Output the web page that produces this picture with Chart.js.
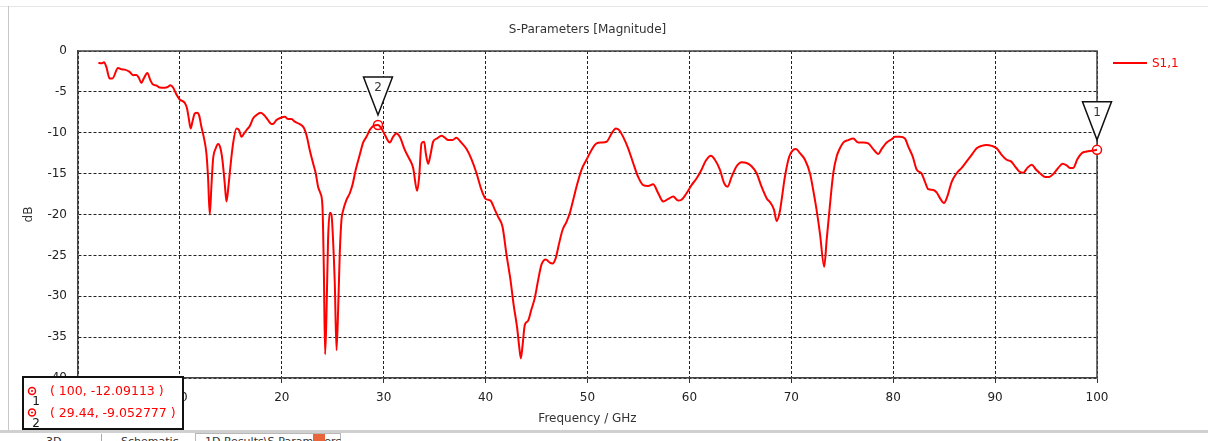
<!DOCTYPE html>
<html>
<head>
<meta charset="utf-8">
<title>S-Parameters [Magnitude]</title>
<script src="https://cdn.jsdelivr.net/npm/chart.js@4.4.1/dist/chart.umd.min.js"></script>
<style>
  html, body { margin: 0; padding: 0; background: #fff; }
  #wrap { position: relative; width: 1208px; height: 441px; overflow: hidden; font-family: "DejaVu Sans", Verdana, sans-serif; }
  #chart { position: absolute; left: 0; top: 0; z-index: 2; }
  .topline { position: absolute; left: 0; top: 6px; width: 1208px; height: 1px; background: #e6e6e6; }
  .leftline { position: absolute; left: 8px; top: 6px; width: 1px; height: 425px; background: #c8c8c8; }
  .band { position: absolute; left: 0; top: 430px; width: 1208px; height: 3px; background: #d0d0d0; }
  .tab { position: absolute; top: 435px; font-size: 11px; color: #333; white-space: nowrap; }
  .sep { position: absolute; left: 101px; top: 434px; width: 1px; height: 7px; background: #aaa; }
  .active { position: absolute; left: 195px; top: 433px; width: 144px; height: 10px; border: 1px solid #b8b8b8; border-bottom: none; background: #fff; }
  .close { position: absolute; left: 313px; top: 434px; width: 12px; height: 9px; background: #e8653a; }
</style>
</head>
<body>
<div id="wrap">
  <div class="topline"></div>
  <div class="leftline"></div>
  <div class="band"></div>
  <div class="tab" style="left:46px">3D</div>
  <div class="sep"></div>
  <div class="tab" style="left:121px">Schematic</div>
  <div class="active"></div>
  <div class="tab" style="left:205px">1D Results\S-Parameters</div>
  <div class="close"></div>
  <canvas id="chart" width="1208" height="441"></canvas>
</div>
<script>
// S1,1 magnitude (GHz / dB)
const freqGHz = [
  2.0, 2.3, 2.56, 2.78, 3.11, 3.37, 3.93, 4.26, 4.58, 5.07, 5.4, 5.73, 5.96, 6.22, 6.45, 6.81,
  7.1, 7.36, 7.7, 8.02, 8.51, 8.83, 9.07, 9.33, 9.66, 9.98, 10.47, 10.7, 10.87, 11.06, 11.23,
  11.46, 11.68, 11.88, 12.11, 12.37, 12.6, 12.76, 12.93, 13.09, 13.25, 13.52, 13.75, 13.98,
  14.17, 14.4, 14.57, 14.76, 14.96, 15.22, 15.55, 15.8, 16.04, 16.3, 16.59, 16.86, 17.18,
  17.51, 17.93, 18.33, 18.65, 18.98, 19.21, 19.47, 19.97, 20.29, 20.62, 20.95, 21.27, 21.76,
  22.16, 22.42, 22.74, 23.07, 23.33, 23.56, 23.79, 23.99, 24.12, 24.25, 24.38, 24.54, 24.71,
  24.87, 25.03, 25.2, 25.37, 25.53, 25.69, 25.86, 26.02, 26.35, 26.67, 26.93, 27.26, 27.65,
  27.98, 28.31, 28.63, 28.96, 29.44, 29.78, 30.12, 30.6, 30.92, 31.25, 31.58, 32.07, 32.56,
  32.89, 33.28, 33.48, 33.71, 33.97, 34.13, 34.36, 34.59, 34.85, 35.24, 35.67, 36.0, 36.32,
  36.75, 37.14, 37.54, 38.13, 38.62, 39.11, 39.6, 40.02, 40.48, 40.9, 41.23, 41.66, 42.05,
  42.44, 42.77, 43.1, 43.29, 43.46, 43.62, 43.85, 44.17, 44.5, 44.83, 45.16, 45.49, 45.91,
  46.3, 46.57, 46.89, 47.22, 47.55, 47.94, 48.27, 48.6, 48.92, 49.42, 49.9, 50.4, 50.89,
  51.38, 51.87, 52.36, 52.78, 53.11, 53.5, 53.99, 54.48, 54.97, 55.46, 55.95, 56.44, 56.94,
  57.43, 57.92, 58.41, 58.9, 59.23, 59.72, 60.21, 60.7, 61.2, 61.62, 62.11, 62.5, 62.99,
  63.42, 63.75, 64.14, 64.63, 65.12, 65.61, 66.1, 66.6, 67.08, 67.58, 67.97, 68.3, 68.56,
  68.88, 69.05, 69.37, 69.8, 70.19, 70.45, 70.85, 71.34, 71.83, 72.15, 72.45, 72.81, 73.23,
  73.47, 73.72, 74.12, 74.45, 74.77, 75.1, 75.59, 76.08, 76.57, 77.06, 77.55, 78.04, 78.53,
  78.86, 79.36, 79.85, 80.17, 80.66, 81.15, 81.48, 81.91, 82.3, 82.79, 83.12, 83.44, 83.93,
  84.26, 84.59, 84.98, 85.31, 85.74, 86.23, 86.72, 87.21, 87.7, 88.19, 88.68, 89.17, 89.66,
  90.15, 90.64, 91.13, 91.56, 91.95, 92.37, 92.76, 93.16, 93.59, 94.01, 94.4, 94.9, 95.32,
  95.78, 96.2, 96.63, 97.02, 97.34, 97.67, 98.07, 98.5, 98.99, 99.48, 100
];
const s11dB = [
  -1.46, -1.5, -1.38, -1.95, -3.37, -3.37, -2.07, -2.24, -2.28, -2.56, -2.96, -2.93, -3.25, -3.9, -3.37, -2.68,
  -3.57, -4.1, -4.22, -4.47, -4.5, -4.39, -4.18, -4.47, -5.32, -5.93, -6.34, -7.03, -8.25, -9.47, -8.65,
  -7.64, -7.56, -7.84, -9.27, -10.69, -12.51, -15.4, -20.0, -16.6, -13.3, -11.9, -11.38, -11.9,
  -13.3, -16.2, -18.4, -16.6, -14.1, -11.3, -9.47, -9.67, -10.49, -10.08, -9.59, -9.18, -8.25,
  -7.84, -7.56, -7.93, -8.45, -8.94, -8.86, -8.45, -8.13, -8.04, -8.33, -8.33, -8.65, -8.94,
  -9.39, -10.28, -12.1, -13.73, -14.95, -16.6, -17.4, -19.0, -26.3, -37.1, -32.4, -23.1, -19.8,
  -20.0, -23.1, -28.4, -36.6, -31.6, -24.7, -20.6, -19.5, -18.2, -17.4, -16.4, -14.5, -12.7,
  -11.2, -10.5, -9.67, -9.18, -9.05, -9.47, -10.28, -11.2, -10.5, -10.08, -10.49, -12.1, -13.3,
  -14.3, -17.1, -15.4, -11.3, -11.1, -12.5, -13.8, -12.7, -11.1, -10.7, -10.37, -10.6, -10.9,
  -10.9, -10.6, -11.1, -12.0, -13.25, -14.95, -17.0, -18.1, -18.3, -19.4, -20.3, -21.5, -24.9,
  -28.0, -31.2, -33.9, -36.1, -37.6, -36.1, -33.5, -33.0, -31.6, -30.2, -28.0, -26.1, -25.5,
  -25.9, -26.0, -25.3, -23.5, -21.9, -20.9, -19.8, -18.2, -16.6, -14.5, -13.3, -12.1, -11.3,
  -11.2, -11.1, -10.1, -9.47, -9.67, -10.5, -11.9, -13.7, -15.4, -16.4, -16.5, -16.3, -17.4,
  -18.4, -18.1, -17.8, -18.3, -18.2, -17.4, -16.4, -15.6, -14.5, -13.4, -12.8, -13.3, -14.5,
  -16.2, -16.6, -15.4, -14.1, -13.6, -13.7, -14.1, -14.95, -16.6, -18.0, -18.6, -19.4, -20.8,
  -19.6, -18.2, -15.4, -12.9, -12.1, -12.0, -12.5, -13.3, -14.95, -17.0, -19.2, -22.3, -26.4,
  -23.1, -19.8, -14.95, -12.9, -11.9, -11.2, -10.9, -10.7, -11.2, -11.2, -11.3, -12.0, -12.6,
  -12.0, -11.2, -10.8, -10.5, -10.5, -10.7, -11.7, -12.9, -14.5, -15.0, -16.0, -16.9, -17.0,
  -17.3, -18.0, -18.6, -17.8, -16.0, -14.95, -14.3, -13.5, -12.7, -11.9, -11.6, -11.5, -11.6,
  -11.9, -12.7, -13.3, -13.5, -14.1, -14.75, -14.9, -14.3, -13.9, -14.5, -14.95, -15.4, -15.4,
  -14.95, -14.3, -13.8, -14.0, -14.3, -14.3, -13.25, -12.5, -12.3, -12.2, -12.09113
];

// markers (label, frequency, value)
const markerLabels = ['1', '2'];
const markerFreq = [100, 29.44];
const markerDb = [-12.09113, -9.052777];

const chartTitle = 'S-Parameters [Magnitude]';
const seriesName = 'S1,1';

const FONT = '"DejaVu Sans", Verdana, sans-serif';
const RED = '#ff0000';

const curve = freqGHz.map((f, i) => ({ x: f, y: s11dB[i] }));
const markerPts = markerFreq.map((f, i) => ({ x: f, y: markerDb[i] }));

const decor = {
  id: 'decor',
  beforeDatasetsDraw(chart) {
    const { ctx, chartArea: a } = chart;
    ctx.save();
    ctx.strokeStyle = '#444';
    ctx.lineWidth = 1.5;
    ctx.beginPath();
    ctx.moveTo(a.left, a.top);
    ctx.lineTo(a.right, a.top);
    ctx.lineTo(a.right, a.bottom);
    ctx.stroke();
    ctx.restore();
  },
  afterDraw(chart) {
    const { ctx, chartArea: a, scales: { x, y } } = chart;
    ctx.save();

    // title
    ctx.font = '12px ' + FONT;
    ctx.fillStyle = '#333';
    ctx.textAlign = 'center';
    ctx.textBaseline = 'middle';
    ctx.fillText(chartTitle, (a.left + a.right) / 2, 29.5);

    // legend
    ctx.strokeStyle = RED;
    ctx.lineWidth = 2;
    ctx.beginPath();
    ctx.moveTo(a.right + 16, 63);
    ctx.lineTo(a.right + 50, 63);
    ctx.stroke();
    ctx.fillStyle = RED;
    ctx.textAlign = 'left';
    ctx.fillText(seriesName, a.right + 55, 63.5);

    // marker flags
    markerFreq.forEach((f, i) => {
      const px = x.getPixelForValue(f);
      const py = y.getPixelForValue(markerDb[i]);
      const top = py - 48, tip = py - 10;
      ctx.beginPath();
      ctx.moveTo(px - 14.5, top);
      ctx.lineTo(px + 14.5, top);
      ctx.lineTo(px, tip);
      ctx.closePath();
      ctx.fillStyle = '#fff';
      ctx.fill();
      ctx.strokeStyle = '#111';
      ctx.lineWidth = 1.5;
      ctx.stroke();
      ctx.fillStyle = '#333';
      ctx.textAlign = 'center';
      ctx.font = '12px ' + FONT;
      ctx.fillText(markerLabels[i], px, top + 11);
    });

    // marker readout box
    const bx = 23, by = 377, bw = 160, bh = 52;
    ctx.fillStyle = '#fff';
    ctx.fillRect(bx, by, bw, bh);
    ctx.strokeStyle = '#111';
    ctx.lineWidth = 2;
    ctx.strokeRect(bx, by, bw, bh);
    markerFreq.forEach((f, i) => {
      const ly = by + 15 + i * 21.5;
      ctx.strokeStyle = RED;
      ctx.lineWidth = 1.5;
      ctx.beginPath();
      ctx.arc(bx + 9, ly - 1, 3.5, 0, Math.PI * 2);
      ctx.stroke();
      ctx.fillStyle = RED;
      ctx.beginPath();
      ctx.arc(bx + 9, ly - 1, 1, 0, Math.PI * 2);
      ctx.fill();
      ctx.fillStyle = '#111';
      ctx.textAlign = 'center';
      ctx.font = '12px ' + FONT;
      ctx.fillText(markerLabels[i], bx + 13, ly + 10);
      ctx.fillStyle = RED;
      ctx.textAlign = 'left';
      ctx.font = '12.5px ' + FONT;
      ctx.fillText('( ' + f + ', ' + markerDb[i] + ' )', bx + 27, ly);
    });
    ctx.restore();
  }
};

new Chart(document.getElementById('chart').getContext('2d'), {
  type: 'line',
  data: {
    datasets: [
      {
        label: seriesName,
        data: curve,
        borderColor: RED,
        borderWidth: 2,
        pointRadius: 0,
        cubicInterpolationMode: 'monotone',
        fill: false
      },
      {
        label: 'markers',
        data: markerPts,
        showLine: false,
        clip: false,
        pointRadius: 4.5,
        pointBorderWidth: 1.5,
        pointBorderColor: RED,
        pointBackgroundColor: '#fff'
      },
      {
        label: 'marker centres',
        data: markerPts,
        showLine: false,
        clip: false,
        pointRadius: 1.2,
        pointBorderWidth: 0,
        pointBackgroundColor: RED
      }
    ]
  },
  options: {
    responsive: false,
    animation: false,
    devicePixelRatio: 1,
    layout: { padding: { top: 51, right: 111, left: 0, bottom: 0 } },
    plugins: { legend: { display: false }, tooltip: { enabled: false } },
    scales: {
      x: {
        type: 'linear',
        min: 0,
        max: 100,
        afterFit: s => { s.height = 63; },
        ticks: { stepSize: 10, color: '#222', font: { family: FONT, size: 12 }, padding: 8, maxRotation: 0 },
        grid: { color: '#222', lineWidth: 1, drawTicks: true, tickLength: 5, tickColor: '#333', tickWidth: 1 },
        border: { display: true, color: '#444', width: 1.5, dash: [3, 2] },
        title: { display: true, text: 'Frequency / GHz', color: '#333', font: { family: FONT, size: 12 }, padding: { top: 0, bottom: 15 } }
      },
      y: {
        min: -40,
        max: 0,
        afterFit: s => { s.width = 78; },
        ticks: { stepSize: 5, color: '#222', font: { family: FONT, size: 12 }, padding: 11 },
        grid: { color: '#222', lineWidth: 1, drawTicks: false },
        border: { display: true, color: '#444', width: 1.5, dash: [3, 2] },
        title: { display: true, text: 'dB', color: '#333', font: { family: FONT, size: 12 }, padding: { top: 22, bottom: 0 } }
      }
    }
  },
  plugins: [decor]
});
</script>
</body>
</html>
